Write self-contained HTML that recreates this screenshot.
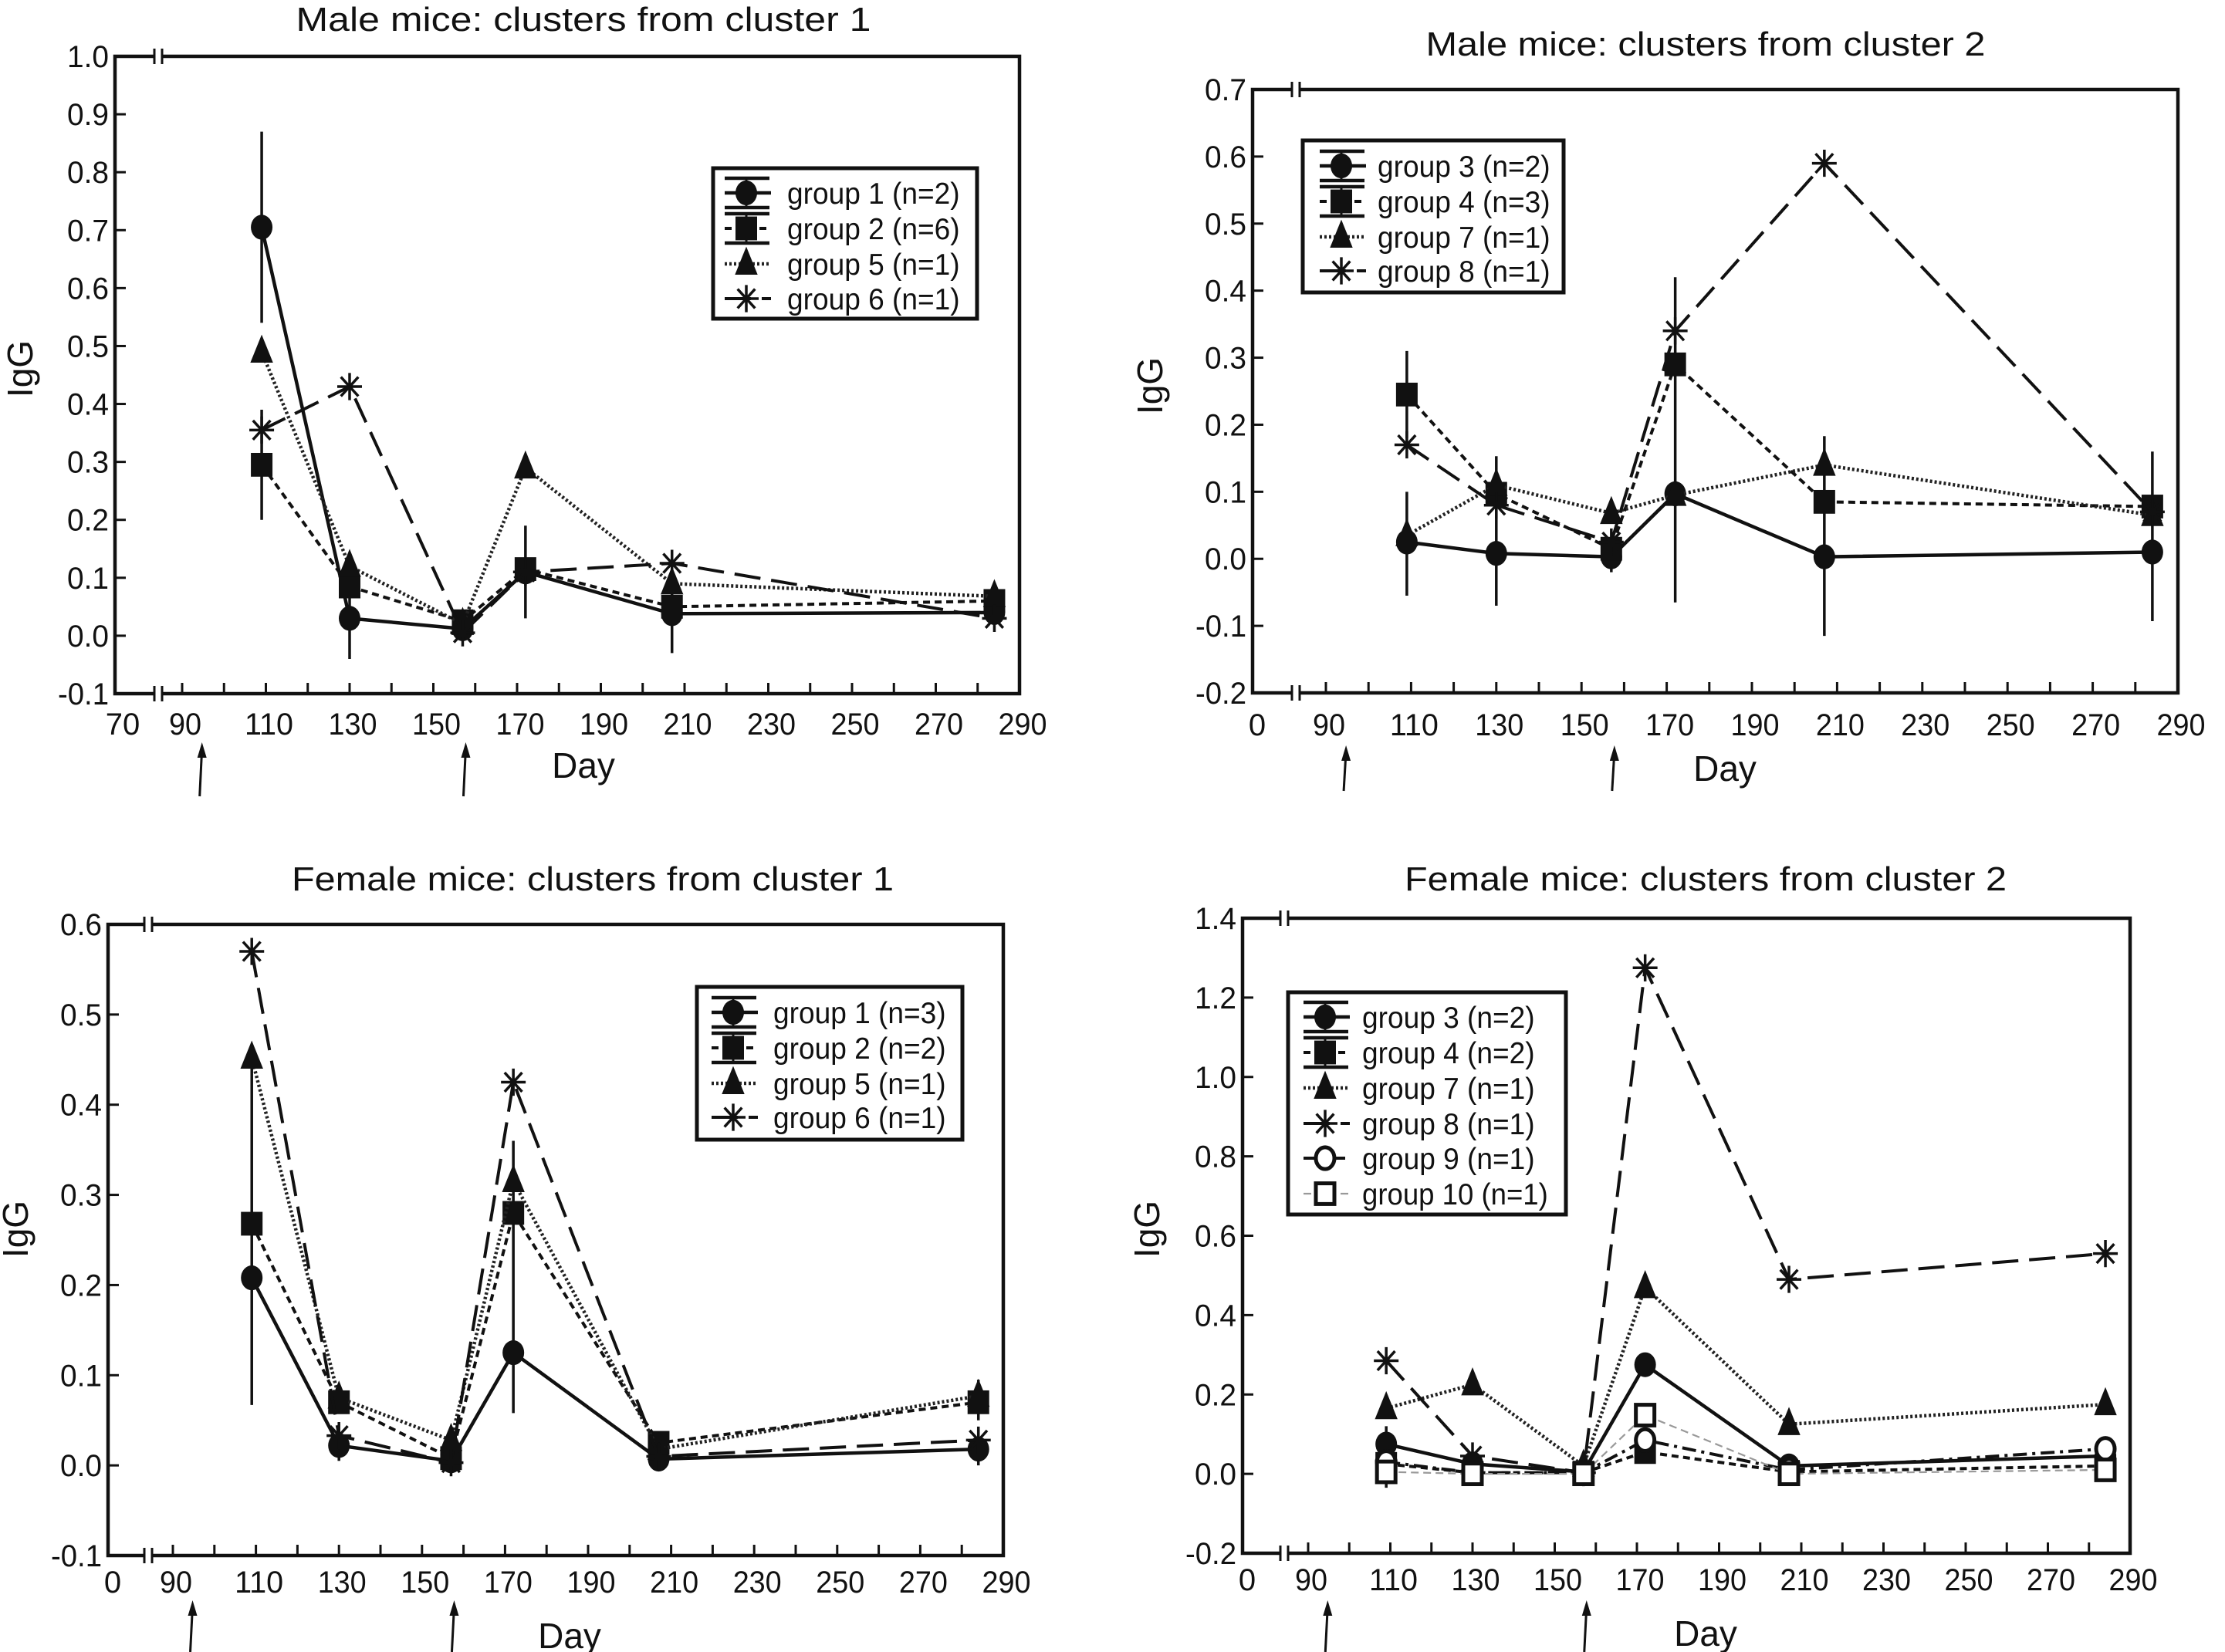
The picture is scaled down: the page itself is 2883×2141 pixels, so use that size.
<!DOCTYPE html>
<html><head><meta charset="utf-8"><title>IgG clusters</title>
<style>html,body{margin:0;padding:0;background:#fff}svg{display:block}text{font-family:"Liberation Sans",sans-serif;fill:#111}</style>
</head><body>
<svg id="fig" xmlns="http://www.w3.org/2000/svg" width="2883" height="2141" viewBox="0 0 2883 2141"></svg>
<script>
const days = [109,130,157,172,207,284];
// Panel 1: Male, cluster 1
const p1_g1 = [0.705,0.03,0.012,0.11,0.038,0.04];
const p1_g1_lo = [0.54,-0.04,null,null,-0.03,null];
const p1_g1_hi = [0.87,0.1,null,null,0.1,null];
const p1_g2 = [0.295,0.085,0.025,0.115,0.05,0.06];
const p1_g2_lo = [0.2,null,null,0.03,null,null];
const p1_g2_hi = [0.39,null,null,0.19,null,null];
const p1_g5 = [0.49,0.12,0.02,0.29,0.09,0.068];
const p1_g6 = [0.355,0.43,0.005,0.11,0.125,0.03];
// Panel 2: Male, cluster 2
const p2_g3 = [0.025,0.008,0.003,0.097,0.003,0.01];
const p2_g3_lo = [-0.055,-0.07,-0.02,-0.065,-0.115,-0.093];
const p2_g3_hi = [0.1,0.153,0.03,0.42,0.183,0.16];
const p2_g4 = [0.245,0.097,0.015,0.29,0.085,0.078];
const p2_g4_lo = [0.18,null,null,null,null,null];
const p2_g4_hi = [0.31,null,null,null,null,null];
const p2_g7 = [0.035,0.11,0.068,0.095,0.14,0.065];
const p2_g8 = [0.17,0.08,0.025,0.34,0.59,0.07];
// Panel 3: Female, cluster 1
const p3_g1 = [0.208,0.022,0.005,0.125,0.007,0.018];
const p3_g1_lo = [0.067,0.005,null,0.058,null,0.0];
const p3_g1_hi = [0.45,0.04,null,0.36,null,0.04];
const p3_g2 = [0.268,0.07,0.008,0.28,0.025,0.07];
const p3_g2_lo = [null,null,null,null,null,0.05];
const p3_g2_hi = [null,null,null,null,null,0.095];
const p3_g5 = [0.452,0.075,0.028,0.315,0.018,0.077];
const p3_g6 = [0.57,0.033,0.003,0.425,0.01,0.028];
// Panel 4: Female, cluster 2
const p4_g3 = [0.075,0.025,0.005,0.275,0.02,0.045];
const p4_g3_lo = [-0.035,null,null,null,null,0.0];
const p4_g3_hi = [0.12,null,null,null,null,0.07];
const p4_g4 = [0.025,0.003,0.003,0.055,0.005,0.02];
const p4_g7 = [0.165,0.225,0.02,0.47,0.125,0.175];
const p4_g8 = [0.285,0.045,0.003,1.275,0.49,0.555];
const p4_g9 = [0.03,0.003,0.003,0.085,0.01,0.063];
const p4_g10 = [0.005,0.0,0.0,0.148,0.0,0.01];

const NS = "http://www.w3.org/2000/svg";
const svg = document.getElementById('fig');
function mk(tag, attrs, parent){const e=document.createElementNS(NS,tag);for(const k in attrs)e.setAttribute(k,attrs[k]);(parent||svg).appendChild(e);return e;}
function txt(s, attrs, parent){const e=mk('text',attrs,parent);e.textContent=s;return e;}

const styles = {
  solid:{dash:'',w:4.5,c:'#111'},
  short:{dash:'9,6',w:4,c:'#111'},
  dot:{dash:'3,3',w:4.5,c:'#222'},
  long:{dash:'34,14',w:4,c:'#111'},
  dashdot:{dash:'18,7,4,7',w:4,c:'#111'},
  gray:{dash:'10,6',w:2.2,c:'#999'}
};

function marker(type, x, y, g){
  const s=14;
  if(type==='circle') return mk('ellipse',{cx:x,cy:y,rx:s,ry:s*1.15,fill:'#111'},g);
  if(type==='ocircle') return mk('ellipse',{cx:x,cy:y,rx:s-2,ry:s*1.15-2,fill:'#fff',stroke:'#111','stroke-width':5},g);
  if(type==='square') return mk('rect',{x:x-s,y:y-s*1.1,width:2*s,height:2.2*s,fill:'#111'},g);
  if(type==='osquare') return mk('rect',{x:x-s+2,y:y-s*1.1+2,width:2*s-4,height:2.2*s-4,fill:'#fff',stroke:'#111','stroke-width':5},g);
  if(type==='triangle') return mk('polygon',{points:`${x},${y-s*1.6} ${x-s*1.05},${y+s} ${x+s*1.05},${y+s}`,fill:'#111'},g);
  if(type==='star'){
    const r=16; let d='';
    for(let i=0;i<4;i++){const a=i*Math.PI/4;d+=`M${x-r*Math.cos(a)},${y-r*1.1*Math.sin(a)}L${x+r*Math.cos(a)},${y+r*1.1*Math.sin(a)}`;}
    return mk('path',{d:d,stroke:'#111','stroke-width':3.5,fill:'none'},g);
  }
}

function panel(cfg){
  const g=mk('g',{});
  
  
  const {L,R,T,B,X90,yMin,yMax,brk}=cfg;
  const ppd=(R-X90)/200;
  const xs=d=>R-(290-d)*ppd;
  const ys=v=>B-(v-yMin)/(yMax-yMin)*(B-T);
  const t=txt(cfg.title,{x:cfg.tx,y:cfg.ty,'font-size':44,'text-anchor':'middle',textLength:cfg.tlen,lengthAdjust:'spacingAndGlyphs'},g);
  
  
  const fr=mk('g',{},g);
  
  
  mk('path',{d:`M${L},${T}L${R},${T}L${R},${B}L${L},${B}Z`,fill:'none',stroke:'#111','stroke-width':4.5},fr);
  [T,B].forEach(yy=>{
    mk('rect',{x:brk-5,y:yy-4,width:10,height:8,fill:'#fff'},fr);
    mk('line',{x1:brk-5,y1:yy-10,x2:brk-5,y2:yy+10,stroke:'#111','stroke-width':3},fr);
    mk('line',{x1:brk+5,y1:yy-10,x2:brk+5,y2:yy+10,stroke:'#111','stroke-width':3},fr);
  });
  const yax=mk('g',{},g);
  
  
  const n=Math.round((yMax-yMin)/cfg.yStep);
  for(let i=0;i<=n;i++){
    const v=yMin+i*cfg.yStep, yy=ys(v);
    mk('line',{x1:L,y1:yy,x2:L+14,y2:yy,stroke:'#111','stroke-width':3},yax);
    const lab=(Math.abs(v)<1e-9?0:v).toFixed(1);
    txt(lab,{x:L-8,y:yy+14,'font-size':40,'text-anchor':'end',textLength:lab.length>3?66:54,lengthAdjust:'spacingAndGlyphs'},yax);
  }
  const yl=txt('IgG',{x:cfg.ylx,y:cfg.yly,'font-size':46,'text-anchor':'middle',transform:`rotate(-90 ${cfg.ylx} ${cfg.yly})`},g);
  
  
  const xax=mk('g',{},g);
  
  
  for(let d=90; d<290; d+=10){mk('line',{x1:xs(d),y1:B,x2:xs(d),y2:B-14,stroke:'#111','stroke-width':3},xax);}
  txt(cfg.firstLab,{x:L+(cfg.firstLab==='0'?6:10),y:cfg.xly,'font-size':40,'text-anchor':'middle'},xax);
  for(let d=90; d<=290; d+=20){const s=String(d);txt(s,{x:xs(d)+4,y:cfg.xly,'font-size':40,'text-anchor':'middle',textLength:s.length*21,lengthAdjust:'spacingAndGlyphs'},xax);}
  const xl=txt('Day',{x:cfg.dx,y:cfg.dy,'font-size':46,'text-anchor':'middle'},g);
  
  
  [94,157].forEach(d=>{
    const a=mk('g',{},g);
    
    
    const x=xs(d)+4;
    mk('line',{x1:x-3,y1:cfg.ay2,x2:x,y2:cfg.ay1+8,stroke:'#111','stroke-width':3},a);
    mk('polygon',{points:`${x},${cfg.ay1} ${x-6},${cfg.ay1+20} ${x+6},${cfg.ay1+20}`,fill:'#111'},a);
  });
  cfg.series.forEach(s=>{
    const sg=mk('g',{},g);
    
    
    const st=styles[s.style];
    if(s.lo){s.lo.forEach((lo,i)=>{if(lo===null)return;mk('line',{x1:xs(days[i]),y1:ys(lo),x2:xs(days[i]),y2:ys(s.hi[i]),stroke:'#111','stroke-width':3.5},sg);});}
    const pts=s.vals.map((v,i)=>xs(days[i])+','+ys(v)).join(' ');
    const pl=mk('polyline',{points:pts,fill:'none',stroke:st.c,'stroke-width':st.w,'stroke-dasharray':st.dash},sg);
    
    
    s.vals.forEach((v,i)=>{
      const m=marker(s.marker,xs(days[i]),ys(v),sg);
      
      
    });
  });
  const lg=mk('g',{},g);
  
  
  const lc=cfg.leg;
  mk('rect',{x:lc.x1,y:lc.y1,width:lc.x2-lc.x1,height:lc.y2-lc.y1,fill:'#fff',stroke:'#111','stroke-width':5},lg);
  cfg.series.forEach((s,i)=>{
    const le=mk('g',{},lg);
    
    
    const yy=lc.rows[i], st=styles[s.style];
    mk('line',{x1:lc.mx-28,y1:yy,x2:lc.mx+32,y2:yy,stroke:st.c,'stroke-width':st.w,'stroke-dasharray':st.dash},le);
    if(s.lo){[-19,19].forEach(o=>mk('line',{x1:lc.mx-28,y1:yy+o,x2:lc.mx+30,y2:yy+o,stroke:'#111','stroke-width':4.5},le));mk('line',{x1:lc.mx,y1:yy-19,x2:lc.mx,y2:yy+19,stroke:'#111','stroke-width':3},le);}
    marker(s.marker,lc.mx,yy,le);
    txt(s.label,{x:lc.tx,y:yy+14,'font-size':39,textLength:s.label.length*17.2,lengthAdjust:'spacingAndGlyphs'},le);
  });
}

panel({name:'panel-male-cluster-1',title:'Male mice: clusters from cluster 1',tx:756,ty:40,tlen:745,
  L:149,R:1321,T:73,B:899,X90:236,yMin:-0.1,yMax:1.0,yStep:0.1,brk:205,firstLab:'70',xly:952,dx:756,dy:1008,ay1:962,ay2:1032,ylx:42,yly:478,
  leg:{x1:924,y1:218,x2:1266,y2:413,mx:967,tx:1020,rows:[250,296,342,387]},
  series:[
   {key:'group-1',label:'group 1 (n=2)',vals:p1_g1,lo:p1_g1_lo,hi:p1_g1_hi,marker:'circle',style:'solid'},
   {key:'group-2',label:'group 2 (n=6)',vals:p1_g2,lo:p1_g2_lo,hi:p1_g2_hi,marker:'square',style:'short'},
   {key:'group-5',label:'group 5 (n=1)',vals:p1_g5,marker:'triangle',style:'dot'},
   {key:'group-6',label:'group 6 (n=1)',vals:p1_g6,marker:'star',style:'long'}]});

panel({name:'panel-male-cluster-2',title:'Male mice: clusters from cluster 2',tx:2210,ty:72,tlen:725,
  L:1623,R:2822,T:116,B:898,X90:1718,yMin:-0.2,yMax:0.7,yStep:0.1,brk:1679,firstLab:'0',xly:953,dx:2235,dy:1012,ay1:966,ay2:1025,ylx:1506,yly:500,
  leg:{x1:1688,y1:182,x2:2026,y2:379,mx:1738,tx:1785,rows:[215,261,307,351]},
  series:[
   {key:'group-3',label:'group 3 (n=2)',vals:p2_g3,lo:p2_g3_lo,hi:p2_g3_hi,marker:'circle',style:'solid'},
   {key:'group-4',label:'group 4 (n=3)',vals:p2_g4,lo:p2_g4_lo,hi:p2_g4_hi,marker:'square',style:'short'},
   {key:'group-7',label:'group 7 (n=1)',vals:p2_g7,marker:'triangle',style:'dot'},
   {key:'group-8',label:'group 8 (n=1)',vals:p2_g8,marker:'star',style:'long'}]});

panel({name:'panel-female-cluster-1',title:'Female mice: clusters from cluster 1',tx:768,ty:1154,tlen:780,
  L:140,R:1300,T:1198,B:2016,X90:224,yMin:-0.1,yMax:0.6,yStep:0.1,brk:192,firstLab:'0',xly:2064,dx:738,dy:2136,ay1:2074,ay2:2141,ylx:36,yly:1593,
  leg:{x1:903,y1:1279,x2:1247,y2:1477,mx:950,tx:1002,rows:[1312,1358,1404,1448]},
  series:[
   {key:'group-1',label:'group 1 (n=3)',vals:p3_g1,lo:p3_g1_lo,hi:p3_g1_hi,marker:'circle',style:'solid'},
   {key:'group-2',label:'group 2 (n=2)',vals:p3_g2,lo:p3_g2_lo,hi:p3_g2_hi,marker:'square',style:'short'},
   {key:'group-5',label:'group 5 (n=1)',vals:p3_g5,marker:'triangle',style:'dot'},
   {key:'group-6',label:'group 6 (n=1)',vals:p3_g6,marker:'star',style:'long'}]});

panel({name:'panel-female-cluster-2',title:'Female mice: clusters from cluster 2',tx:2210,ty:1154,tlen:780,
  L:1610,R:2760,T:1190,B:2013,X90:1695,yMin:-0.2,yMax:1.4,yStep:0.2,brk:1664,firstLab:'0',xly:2061,dx:2210,dy:2133,ay1:2074,ay2:2141,ylx:1502,yly:1593,
  leg:{x1:1669,y1:1286,x2:2029,y2:1574,mx:1717,tx:1765,rows:[1318,1364,1410,1456,1501,1547]},
  series:[
   {key:'group-3',label:'group 3 (n=2)',vals:p4_g3,lo:p4_g3_lo,hi:p4_g3_hi,marker:'circle',style:'solid'},
   {key:'group-4',label:'group 4 (n=2)',vals:p4_g4,lo:[null,null,null,null,null,null],hi:[null,null,null,null,null,null],marker:'square',style:'short'},
   {key:'group-7',label:'group 7 (n=1)',vals:p4_g7,marker:'triangle',style:'dot'},
   {key:'group-8',label:'group 8 (n=1)',vals:p4_g8,marker:'star',style:'long'},
   {key:'group-9',label:'group 9 (n=1)',vals:p4_g9,marker:'ocircle',style:'dashdot'},
   {key:'group-10',label:'group 10 (n=1)',vals:p4_g10,marker:'osquare',style:'gray'}]});
</script>
</body></html>
